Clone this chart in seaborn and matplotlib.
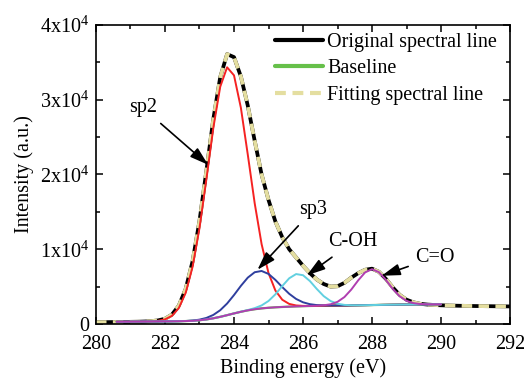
import matplotlib
matplotlib.use("Agg")
import matplotlib.pyplot as plt
from matplotlib.lines import Line2D
from matplotlib.ticker import FixedLocator, MultipleLocator
import seaborn as sns
import pandas as pd

# ---- C 1s spectrum: fitted components (energy in eV, intensity in counts) ----
energy_fit = [280.6, 280.8, 281.0, 281.2, 281.4, 281.6, 281.8, 282.0, 282.2, 282.4,
              282.6, 282.8, 283.0, 283.2, 283.4, 283.6, 283.8, 284.0, 284.2, 284.4,
              284.6, 284.8, 285.0, 285.2, 285.4, 285.6, 285.8, 286.0, 286.2, 286.4,
              286.6, 286.8, 287.0, 287.2, 287.4, 287.6, 287.8, 288.0, 288.2, 288.4,
              288.6, 288.8, 289.0, 289.2, 289.4, 289.6, 289.8, 290.0]

baseline = [300, 306, 312, 318, 324, 330, 336, 344, 353, 367,
            390, 430, 499, 607, 761, 955, 1180, 1413, 1634, 1823,
            1974, 2086, 2169, 2230, 2277, 2316, 2352, 2383, 2408, 2428,
            2443, 2453, 2463, 2472, 2483, 2497, 2514, 2532, 2550, 2567,
            2581, 2592, 2600, 2607, 2614, 2620, 2626, 2632]

sp2 = [300, 306, 312, 318, 331, 356, 425, 615, 1084, 2127,
       4168, 7661, 12843, 19382, 26215, 31725, 34337, 33262, 28908, 22643,
       16140, 10681, 6817, 4471, 3240, 2685, 2478, 2421, 2418, 2428,
       2443, 2453, 2463, 2472, 2483, 2497, 2514, 2532, 2550, 2567,
       2581, 2592, 2600, 2607, 2614, 2620, 2626, 2632]

sp3 = [300, 306, 312, 318, 324, 330, 336, 344, 353, 370,
       400, 460, 582, 811, 1210, 1840, 2738, 3871, 5103, 6203,
       6924, 7091, 6698, 5897, 4934, 4039, 3351, 2902, 2649, 2528,
       2480, 2465, 2467, 2472, 2483, 2497, 2514, 2532, 2550, 2567,
       2581, 2592, 2600, 2607, 2614, 2620, 2626, 2632]

c_oh = [300, 306, 312, 318, 324, 330, 336, 344, 353, 367,
        390, 430, 499, 607, 761, 955, 1180, 1416, 1646, 1868,
        2120, 2483, 3076, 3969, 5080, 6114, 6679, 6526, 5743, 4684,
        3726, 3067, 2710, 2555, 2507, 2503, 2514, 2532, 2550, 2567,
        2581, 2592, 2600, 2607, 2614, 2620, 2626, 2632]

c_o = [300, 306, 312, 318, 324, 330, 336, 344, 353, 367,
       390, 430, 499, 607, 761, 955, 1180, 1413, 1634, 1823,
       1974, 2086, 2169, 2230, 2277, 2316, 2352, 2383, 2408, 2443,
       2500, 2637, 2962, 3600, 4608, 5839, 6899, 7332, 6935, 5909,
       4706, 3720, 3099, 2791, 2671, 2635, 2629, 2632]

# ---- measured spectrum and the summed fit ----
energy_raw = [280.0, 280.2, 280.4, 280.6, 280.8, 281.0, 281.2, 281.4, 281.6, 281.8,
              282.0, 282.2, 282.4, 282.6, 282.8, 283.0, 283.2, 283.4, 283.6, 283.8,
              284.0, 284.2, 284.4, 284.6, 284.8, 285.0, 285.2, 285.4, 285.6, 285.8,
              286.0, 286.2, 286.4, 286.6, 286.8, 287.0, 287.2, 287.4, 287.6, 287.8,
              288.0, 288.2, 288.4, 288.6, 288.8, 289.0, 289.2, 289.4, 289.6, 289.8,
              290.0, 290.2, 290.4, 290.6, 290.8, 291.0, 291.2, 291.4, 291.6, 291.8,
              292.0]

original = [230, 240, 250, 262, 272, 285, 300, 330, 380, 480,
            700, 1250, 2450, 4700, 8400, 13800, 20500, 27400, 33000, 36100,
            35700, 33100, 29200, 24500, 20000, 16600, 13700, 11600, 10000, 8900,
            7800, 6800, 5950, 5350, 5000, 5050, 5500, 6200, 6800, 7250,
            7400, 6980, 6050, 4900, 3900, 3250, 2900, 2700, 2600, 2540,
            2500, 2470, 2450, 2430, 2415, 2400, 2390, 2380, 2370, 2360,
            2350]

fitted = [230, 240, 250, 262, 272, 285, 300, 330, 380, 480,
          700, 1250, 2450, 4700, 8400, 13800, 20500, 27400, 33000, 36100,
          35700, 33100, 29200, 24500, 20000, 16600, 13700, 11600, 10000, 8900,
          7800, 6800, 5950, 5350, 5000, 5050, 5500, 6200, 6800, 7250,
          7400, 6980, 6050, 4900, 3900, 3250, 2900, 2700, 2600, 2540,
          2500, 2470, 2450, 2430, 2415, 2400, 2390, 2380, 2370, 2360,
          2350]

x_ticks = [280, 282, 284, 286, 288, 290, 292]
y_ticks = [0, 10000, 20000, 30000, 40000]
y_tick_labels = ["0", "1x10$^{4}$", "2x10$^{4}$", "3x10$^{4}$", "4x10$^{4}$"]

peak_names = ["sp2", "sp3", "C-OH", "C=O"]
label_pos = [(281.36, 28900), (286.29, 15250), (287.45, 10970), (289.83, 8960)]
arrow_tip = [(283.25, 21300), (284.68, 7250), (286.11, 6500), (288.28, 6450)]

# ---- style ----
sns.set_theme(style="ticks")
plt.rcParams["font.family"] = ["Liberation Serif", "DejaVu Serif"]
plt.rcParams["mathtext.fontset"] = "custom"
plt.rcParams["mathtext.rm"] = "Liberation Serif"
plt.rcParams["mathtext.it"] = "Liberation Serif:italic"
plt.rcParams["text.color"] = "black"
plt.rcParams["axes.labelcolor"] = "black"
plt.rcParams["xtick.color"] = "black"
plt.rcParams["ytick.color"] = "black"
plt.rcParams["axes.edgecolor"] = "black"

FS = 14.5
BLACK = "black"
FIT_COLOR = "#e4dea0"
BASE_COLOR = "#66c04a"
FIT_DASH = (2.8, 1.7)

fig = plt.figure(figsize=(5.24, 3.78), dpi=100)
ax = fig.add_axes([0.1832, 0.1429, 0.7901, 0.791])

df_fit = pd.DataFrame({"energy": energy_fit, "baseline": baseline, "sp2": sp2,
                       "sp3": sp3, "C-OH": c_oh, "C=O": c_o})
df_raw = pd.DataFrame({"energy": energy_raw, "original": original, "fitted": fitted})

sns.lineplot(data=df_raw, x="energy", y="original", ax=ax, color=BLACK,
             lw=2.7, sort=False, estimator=None, legend=False)
sns.lineplot(data=df_raw, x="energy", y="fitted", ax=ax, color=FIT_COLOR,
             lw=2.7, sort=False, estimator=None, legend=False)
ax.lines[-1].set_dashes(FIT_DASH)

sns.lineplot(data=df_fit, x="energy", y="baseline", ax=ax, color=BASE_COLOR,
             lw=1.6, sort=False, estimator=None, legend=False)

component_colors = {"sp2": "#f52222", "sp3": "#2f3f9e", "C-OH": "#62d0e0", "C=O": "#b03eb0"}
for name, col in component_colors.items():
    sns.lineplot(data=df_fit, x="energy", y=name, ax=ax, color=col,
                 lw=1.4, sort=False, estimator=None, legend=False)

ax.set_xlim(280, 292)
ax.set_ylim(0, 40000)
ax.xaxis.set_major_locator(FixedLocator(x_ticks))
ax.xaxis.set_minor_locator(MultipleLocator(1))
ax.set_xticklabels([str(t) for t in x_ticks])
ax.set_yticks(y_ticks)
ax.set_yticklabels(y_tick_labels)
ax.yaxis.set_minor_locator(MultipleLocator(5000))

ax.tick_params(which="both", direction="in", top=True, right=True,
               labelsize=FS, width=1.1, colors="black")
ax.tick_params(which="major", length=4.8)
ax.tick_params(which="minor", length=3.0)
ax.tick_params(axis="x", which="major", pad=8)
ax.tick_params(axis="y", which="major", pad=5)
for sp in ax.spines.values():
    sp.set_linewidth(1.2)
    sp.set_color("black")

ax.set_xlabel("Binding energy (eV)", fontsize=FS, labelpad=3)
ax.set_ylabel("Intensity (a.u.)", fontsize=FS, labelpad=4)

for name, (tx, ty), (px, py) in zip(peak_names, label_pos, arrow_tip):
    ax.annotate(name, xy=(px, py), xytext=(tx, ty), ha="center", va="center",
                fontsize=FS,
                arrowprops=dict(arrowstyle="-|>,head_length=0.8,head_width=0.25",
                                color="black", lw=1.2, shrinkA=3, shrinkB=0,
                                mutation_scale=14))

legend_handles = [
    Line2D([], [], color=BLACK, lw=3.0),
    Line2D([], [], color=BASE_COLOR, lw=3.0),
    Line2D([], [], color=FIT_COLOR, lw=3.0, dashes=(2.6, 1.6)),
]
ax.legend(handles=legend_handles,
          labels=["Original spectral line", "Baseline", "Fitting spectral line"],
          loc="upper left", bbox_to_anchor=(0.432, 0.975), frameon=False,
          fontsize=FS, handlelength=2.4, handletextpad=0.2, labelspacing=0.38,
          borderaxespad=0, borderpad=0)

fig.savefig("out.png", dpi=100)
